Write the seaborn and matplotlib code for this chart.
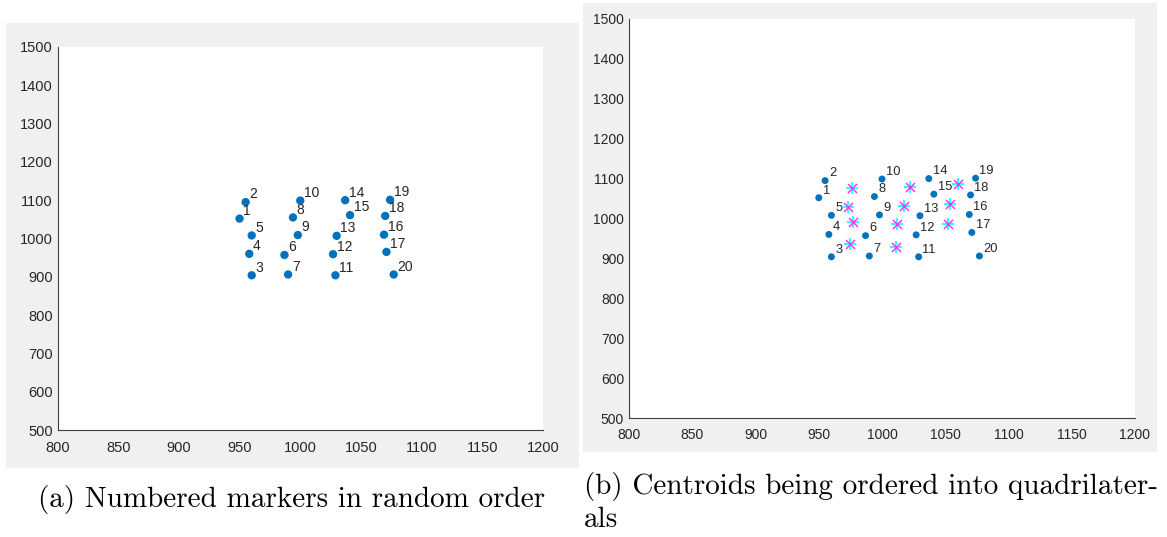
import numpy as np
import pandas as pd
import matplotlib
matplotlib.use("Agg")
import matplotlib.pyplot as plt
from matplotlib.patches import Rectangle
import seaborn as sns

# ---- data ----
marker_ids = list(range(1, 21))
marker_x = [950, 955, 960, 958, 960, 987, 990, 994, 998, 1000,
            1029, 1027, 1030, 1037, 1041, 1069, 1071, 1070, 1074, 1077]
marker_y = [1052, 1095, 904, 960, 1008, 957, 906, 1055, 1009, 1099,
            904, 959, 1007, 1100, 1061, 1010, 965, 1059, 1101, 906]
centroid_x = [976, 973, 977, 975, 1022, 1017, 1012, 1011, 1060, 1054, 1052]
centroid_y = [1076, 1030, 992, 935, 1080, 1032, 986, 928, 1086, 1036, 985]
x_ticks = [800, 850, 900, 950, 1000, 1050, 1100, 1150, 1200]
y_ticks = [500, 600, 700, 800, 900, 1000, 1100, 1200, 1300, 1400, 1500]
captions = ["(a) Numbered markers in random order",
            "(b) Centroids being ordered into quadrilater-\nals"]

markers = pd.DataFrame({"id": marker_ids, "x": marker_x, "y": marker_y})
cents = pd.DataFrame({"x": centroid_x, "y": centroid_y})

sns.set_theme(style="white")
plt.rcParams["font.family"] = ["Liberation Sans", "DejaVu Sans"]

W, H = 1167, 537
fig = plt.figure(figsize=(W / 100, H / 100), dpi=100)
fig.patch.set_facecolor("white")

def px_rect(x0, y0, x1, y1):
    return [x0 / W, (H - y1) / H, (x1 - x0) / W, (y1 - y0) / H]

# gray backgrounds
for r in [px_rect(6, 23, 579, 468), px_rect(583, 3, 1157, 452)]:
    fig.patches.append(Rectangle((r[0], r[1]), r[2], r[3], transform=fig.transFigure,
                                 facecolor="#F0F0F0", edgecolor="none", zorder=-5))

axA = fig.add_axes(px_rect(57.5, 47, 543, 430))
axB = fig.add_axes(px_rect(629, 19, 1135, 418))
axA.set_zorder(2)
axB.set_zorder(2)

blue = "#0072BD"
txtc = "#262626"

def style(ax, tick_fs, xpad, ypad):
    ax.set_xlim(800, 1200)
    ax.set_ylim(500, 1500)
    ax.set_xticks(x_ticks)
    ax.set_yticks(y_ticks)
    ax.set_xticklabels([str(v) for v in x_ticks])
    ax.set_yticklabels([str(v) for v in y_ticks])
    ax.set_facecolor("white")
    for s in ["top", "right"]:
        ax.spines[s].set_visible(False)
    for s in ["left", "bottom"]:
        ax.spines[s].set_color("#404040")
        ax.spines[s].set_linewidth(0.8)
    ax.tick_params(axis="both", direction="in", length=3.5, width=0.8,
                   colors="#404040", labelcolor=txtc, labelsize=tick_fs)
    ax.tick_params(axis="x", pad=xpad)
    ax.tick_params(axis="y", pad=ypad)
    ax.set_xlabel("")
    ax.set_ylabel("")

# panel (a)
sns.scatterplot(data=markers, x="x", y="y", ax=axA, color=blue, s=36,
                edgecolor="none", linewidth=0, zorder=3, legend=False)
for i, x, y in zip(marker_ids, marker_x, marker_y):
    axA.text(x + 3, y + 20, str(i), fontsize=10, color=txtc, ha="left", va="center")
style(axA, 10.5, 8, 3.5)

# panel (b)
sns.scatterplot(data=markers, x="x", y="y", ax=axB, color=blue, s=25,
                edgecolor="none", linewidth=0, zorder=3, legend=False)
sns.scatterplot(data=cents, x="x", y="y", ax=axB, color="#33FFFF", marker="+",
                s=80, linewidth=1.5, zorder=4, legend=False)
sns.scatterplot(data=cents, x="x", y="y", ax=axB, color="#FF33FF", marker="x",
                s=42, linewidth=1.1, zorder=5, legend=False)
for i, x, y in zip(marker_ids, marker_x, marker_y):
    axB.text(x + 3, y + 18, str(i), fontsize=9.3, color=txtc, ha="left", va="center")
style(axB, 10, 7, 3.5)

# captions
fig.text(292 / W, 1 - 500 / H, captions[0], fontsize=21, family="cmr10",
         ha="center", va="center", color="black")
fig.text(584 / W, 1 - 472 / H, captions[1], fontsize=21, family="cmr10",
         ha="left", va="top", color="black", linespacing=1.3)

fig.savefig("out.png", dpi=100, facecolor="white")
